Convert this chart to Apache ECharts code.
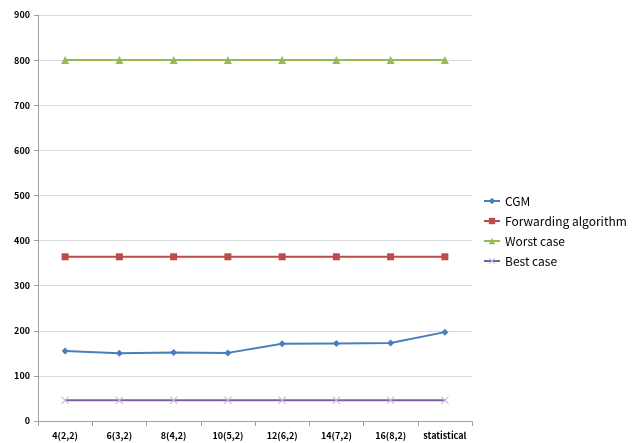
<!DOCTYPE html>
<html><head><meta charset="utf-8">
<script src="https://cdn.jsdelivr.net/npm/echarts@6/dist/echarts.min.js"></script>
<style>html,body{margin:0;padding:0;background:#fff}#c{width:636px;height:443px}</style>
</head><body><div id="c"></div>
<script>
const categories = ['4(2,2)','6(3,2)','8(4,2)','10(5,2)','12(6,2)','14(7,2)','16(8,2)','statistical'];
const cgm = [155, 150, 152, 151, 171, 172, 173, 197];
const forwarding = [364, 364, 364, 364, 364, 364, 364, 364];
const worst = [800, 800, 800, 800, 800, 800, 800, 800];
const best = [46, 46, 46, 46, 46, 46, 46, 46];
const yTicks = {min: 0, max: 900, interval: 100};

const font = '"Noto Sans CJK KR", "Noto Sans", sans-serif';
const xPath = 'path://M1,0L5,4L9,0L10,1L6,5L10,9L9,10L5,6L1,10L0,9L4,5L0,1Z';
const chart = echarts.init(document.getElementById('c'));
chart.setOption({
  animation: false,
  grid: {left: 38, right: 164, top: 15, bottom: 22},
  legend: {
    orient: 'vertical', left: 478, top: 190, itemGap: 8, itemWidth: 16, itemHeight: 8,
    textStyle: {fontFamily: font, fontSize: 12, color: '#000'},
    data: ['CGM','Forwarding algorithm','Worst case','Best case']
  },
  xAxis: {
    type: 'category', data: categories, boundaryGap: true,
    axisLine: {lineStyle: {color: '#a0a0a0'}},
    axisTick: {show: true, length: 5, lineStyle: {color: '#a0a0a0'}},
    axisLabel: {fontFamily: font, fontSize: 9, fontWeight: 'bold', color: '#000', margin: 10, interval: 0}
  },
  yAxis: {
    type: 'value', min: yTicks.min, max: yTicks.max, interval: yTicks.interval,
    axisLine: {show: true, lineStyle: {color: '#a0a0a0'}},
    axisTick: {show: true, length: 4, lineStyle: {color: '#a0a0a0'}},
    splitLine: {lineStyle: {color: '#d9d9d9'}},
    axisLabel: {fontFamily: font, fontSize: 9, fontWeight: 'bold', color: '#000', margin: 8}
  },
  series: [
    {name: 'CGM', type: 'line', data: cgm, symbol: 'diamond', symbolSize: 7,
     lineStyle: {color: '#4A7EBB', width: 2}, itemStyle: {color: '#4A7EBB'}},
    {name: 'Forwarding algorithm', type: 'line', data: forwarding, symbol: 'rect', symbolSize: 7,
     lineStyle: {color: '#BE4B48', width: 2}, itemStyle: {color: '#BE4B48'}},
    {name: 'Worst case', type: 'line', data: worst, symbol: 'triangle', symbolSize: 8,
     lineStyle: {color: '#98B954', width: 2}, itemStyle: {color: '#98B954'}},
    {name: 'Best case', type: 'line', data: best, symbol: xPath, symbolSize: 8,
     lineStyle: {color: '#7D60A0', width: 2}, itemStyle: {color: '#C8B8DC'}}
  ]
});
</script></body></html>
